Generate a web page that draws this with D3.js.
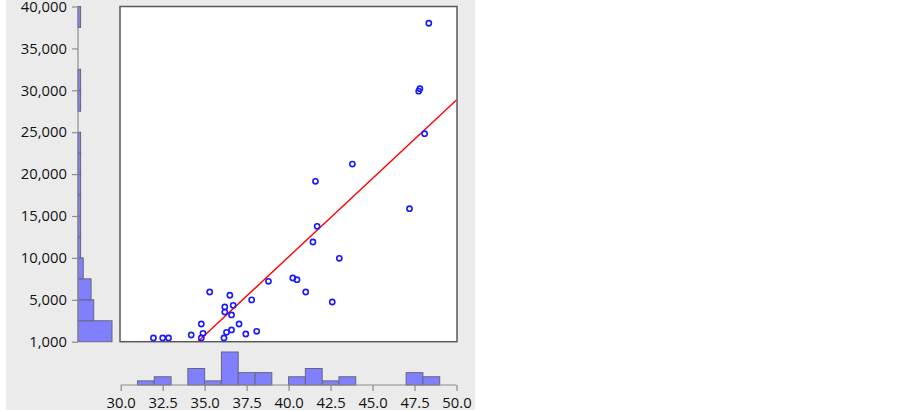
<!DOCTYPE html>
<html>
<head>
<meta charset="utf-8">
<script src="https://cdn.jsdelivr.net/npm/d3@7"></script>
<style>
    body { margin: 0; background: #fff; }
    svg { display: block; }
    text { font-family: "Open Sans", "Noto Sans", sans-serif; }
</style>
</head>
<body>
<svg id="chart" width="903" height="412"></svg>
<script>
// Scatter data (x, y)
const xVals = [31.95, 32.5, 32.85, 34.2, 34.8, 34.9, 34.8, 35.3, 36.5, 36.2, 36.2, 36.7,
    36.6, 37.05, 36.6, 36.3, 36.15, 37.45, 38.1, 37.8, 38.8, 40.25, 40.5, 41.02,
    42.6, 41.45, 41.7, 41.6, 43.02, 43.8, 48.35, 47.75, 47.82, 48.1, 47.2];
const yVals = [440, 440, 440, 800, 2110, 1000, 440, 5930, 5540, 4140, 3540, 4340,
    3190, 2110, 1400, 1120, 440, 920, 1240, 4990, 7210, 7600, 7400, 5930,
    4740, 11900, 13770, 19140, 9950, 21200, 38000, 29900, 30190, 24820, 15870];

// Regression line end points
const regX = [34.59, 50];
const regY = [0, 28840];

// Marginal histogram of x (bin start, width 1)
const xBinStarts = [31, 32, 34, 35, 36, 37, 38, 40, 41, 42, 43, 47, 48];
const xBinCounts = [1, 2, 4, 1, 8, 3, 3, 2, 4, 1, 2, 3, 2];
const xBinWidth = 1;

// Marginal histogram of y (bin start, width 2500)
const yBinStarts = [0, 2500, 5000, 7500, 10000, 12500, 15000, 17500, 20000, 22500, 27500, 30000, 37500];
const yBinCounts = [13, 6, 5, 2, 1, 1, 1, 1, 1, 1, 1, 1, 1];
const yBinWidth = 2500;

// Axis ticks
const xTicks = [30, 32.5, 35, 37.5, 40, 42.5, 45, 47.5, 50];
const yTicks = [0, 5000, 10000, 15000, 20000, 25000, 30000, 35000, 40000];
const yTickLabels = ["1,000", "5,000", "10,000", "15,000", "20,000", "25,000", "30,000", "35,000", "40,000"];

const svg = d3.select("#chart");

// Layout
const frame = { left: 120, right: 457, top: 6.5, bottom: 341.7 };
const yAxisX = 78;
const xAxisY = 385;

const x = d3.scaleLinear().domain([30, 50]).range([120.7, 456.5]);
const y = d3.scaleLinear().domain([0, 40000]).range([341.7, 6.5]);
const histW = d3.scaleLinear().domain([0, 13]).range([yAxisX, 112]);
const histH = d3.scaleLinear().domain([0, 8]).range([xAxisY, 352]);

// Gray panel background
svg.append("rect")
    .attr("x", 6).attr("y", 0)
    .attr("width", 469).attr("height", 410)
    .attr("fill", "#ebebeb");

// Plot frame
svg.append("rect")
    .attr("x", frame.left).attr("y", frame.top)
    .attr("width", frame.right - frame.left)
    .attr("height", frame.bottom - frame.top)
    .attr("fill", "#fff")
    .attr("stroke", "#5a5a5a")
    .attr("stroke-width", 1.5);

svg.append("clipPath").attr("id", "clip")
    .append("rect")
    .attr("x", frame.left).attr("y", frame.top)
    .attr("width", frame.right - frame.left)
    .attr("height", frame.bottom - frame.top);

const plot = svg.append("g").attr("clip-path", "url(#clip)");

// Regression line
plot.append("line")
    .attr("x1", x(regX[0])).attr("y1", y(regY[0]))
    .attr("x2", x(regX[1])).attr("y2", y(regY[1]))
    .attr("stroke", "#ff0000")
    .attr("stroke-width", 1.4);

// Points
plot.selectAll("circle")
    .data(xVals.map((v, i) => [v, yVals[i]]))
    .join("circle")
    .attr("cx", d => x(d[0]))
    .attr("cy", d => y(d[1]))
    .attr("r", 2.6)
    .attr("fill", "none")
    .attr("stroke", "#1a1aff")
    .attr("stroke-width", 1.6);

// Left histogram
svg.append("g").selectAll("rect")
    .data(yBinStarts.map((s, i) => ({ s, c: yBinCounts[i] })))
    .join("rect")
    .attr("x", yAxisX)
    .attr("y", d => y(d.s + yBinWidth))
    .attr("width", d => histW(d.c) - yAxisX)
    .attr("height", d => y(d.s) - y(d.s + yBinWidth))
    .attr("fill", "#8080ff")
    .attr("stroke", "#66667a")
    .attr("stroke-width", 1);

// Bottom histogram
svg.append("g").selectAll("rect")
    .data(xBinStarts.map((s, i) => ({ s, c: xBinCounts[i] })))
    .join("rect")
    .attr("x", d => x(d.s))
    .attr("y", d => histH(d.c))
    .attr("width", d => x(d.s + xBinWidth) - x(d.s))
    .attr("height", d => xAxisY - histH(d.c))
    .attr("fill", "#8080ff")
    .attr("stroke", "#66667a")
    .attr("stroke-width", 1);

// Left axis
const yAxis = svg.append("g")
    .attr("transform", `translate(${yAxisX},0)`)
    .call(d3.axisLeft(y)
        .tickValues(yTicks)
        .tickSize(6)
        .tickPadding(5)
        .tickFormat((d, i) => yTickLabels[i]));

// Bottom axis
const xAxis = svg.append("g")
    .attr("transform", `translate(0,${xAxisY})`)
    .call(d3.axisBottom(x)
        .tickValues(xTicks)
        .tickSize(6)
        .tickPadding(6)
        .tickFormat(d3.format(".1f")));

[yAxis, xAxis].forEach(a => {
    a.select(".domain").attr("stroke", "#8c8c8c").attr("stroke-width", 1.2);
    a.selectAll(".tick line").attr("stroke", "#8c8c8c").attr("stroke-width", 1.2);
    a.selectAll(".tick text")
        .attr("fill", "#111")
        .style("font-size", "14.8px")
        .style("font-family", "'Open Sans', 'Noto Sans', sans-serif");
});
yAxis.select(".domain").attr("d", `M0,${y(40000)}V${y(0)}`);
xAxis.select(".domain").attr("d", `M${x(30)},0H${x(50)}`);
</script>
</body>
</html>
